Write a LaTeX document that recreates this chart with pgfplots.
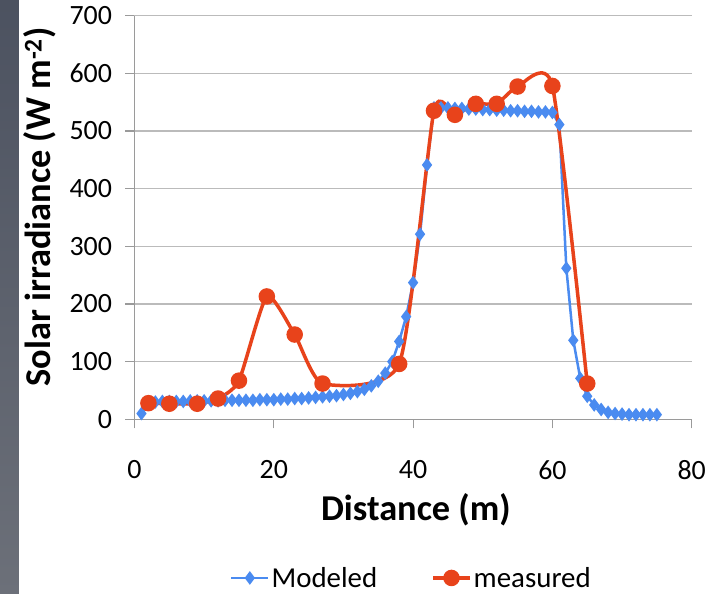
\documentclass[border=0pt]{standalone}
\usepackage{fontspec}
\setmainfont{Carlito}
\usepackage{pgfplots}
\pgfplotsset{compat=1.18}
\definecolor{modelBlue}{HTML}{4A8BF0}
\definecolor{measRed}{HTML}{E8431B}
\definecolor{axisGray}{HTML}{9A9A9A}
\definecolor{gridGray}{HTML}{BBBBBB}
\definecolor{stripTop}{HTML}{4C5260}
\definecolor{stripBot}{HTML}{6C7079}

\begin{document}
\begin{tikzpicture}
% slide background and the dark strip on the left
\fill[white] (-134.5bp,-174.7bp) rectangle (582.5bp,419.3bp);
\shade[top color=stripTop, bottom color=stripBot] (-134.5bp,-174.7bp) rectangle (-115.5bp,419.3bp);
\begin{axis}[
  at={(0,0)}, anchor=south west,
  scale only axis, width=557.2bp, height=403.7bp,
  xmin=0, xmax=80, ymin=0, ymax=700,
  xtick={0,20,...,80}, ytick={0,100,...,700},
  axis lines=left, axis line style={-, axisGray, line width=1.2bp},
  tick style={draw=axisGray, line width=1.2bp}, tick align=outside,
  major tick length=9bp,
  ymajorgrids, major grid style={gridGray, line width=1.2bp},
  /pgf/number format/assume math mode=true,
  tick label style={font=\fontsize{28}{32}\selectfont},
  xticklabel style={yshift=-28.5bp},
  yticklabel style={xshift=-10bp},
  xlabel={\bfseries Distance (m)},
  xlabel style={at={(axis description cs:0.505,-0.2247)}, anchor=center,
    font=\fontsize{36.5}{40}\selectfont},
  ylabel={\bfseries Solar irradiance (W m\textsuperscript{-2})},
  ylabel style={at={(axis description cs:-0.1696,0.526)}, anchor=center,
    font=\fontsize{36.5}{40}\selectfont},
  clip=false,
  legend columns=2,
  legend style={draw=none, fill=none, at={(axis description cs:0.497,-0.393)},
    anchor=center, font=\fontsize{29}{32}\selectfont,
    /tikz/every even column/.append style={column sep=52bp}},
  legend image code/.code={\draw[mark repeat=2, mark phase=2, #1]
    plot coordinates {(0bp,0bp) (18.5bp,0bp) (37bp,0bp)};},
]
\addplot[modelBlue, line width=2.5bp, mark=diamond*, mark size=4.8bp,
  mark options={fill=modelBlue, draw=none}] coordinates {
(1,10) (2,30) (3,30) (4,31) (5,31) (6,31) (7,31) (8,32) (9,32) (10,32)
(11,32) (12,32) (13,33) (14,33) (15,33) (16,33) (17,33) (18,34) (19,34) (20,34)
(21,35) (22,35) (23,36) (24,36) (25,37) (26,38) (27,39) (28,40) (29,41) (30,43)
(31,45) (32,48) (33,52) (34,58) (35,66) (36,80) (37,100) (38,135) (39,178) (40,237)
(41,321) (42,441) (43,540) (44,540) (45,540) (46,539) (47,539) (48,538) (49,538) (50,537)
(51,537) (52,536) (53,536) (54,535) (55,535) (56,534) (57,534) (58,533) (59,533) (60,532)
(61,511) (62,262) (63,137) (64,71) (65,40) (66,25) (67,17) (68,12) (69,10) (70,9)
(71,8) (72,8) (73,8) (74,8) (75,8)
};
\addlegendentry{Modeled}
\addplot[measRed, line width=3.5bp, smooth, tension=0.35, mark=*, mark size=6.5bp,
  mark options={fill=measRed, draw=none}] coordinates {
(2,28) (5,27) (9,27) (12,36) (15,67) (19,213) (23,147) (27,62)
(38,96) (43,535) (46,528) (49,547) (52,547) (55,577) (60,578) (65,62)
};
\addlegendentry{measured}
\end{axis}
\pgfresetboundingbox
\path (-134.5bp,-174.7bp) rectangle (582.5bp,419.3bp);
\end{tikzpicture}
\end{document}
